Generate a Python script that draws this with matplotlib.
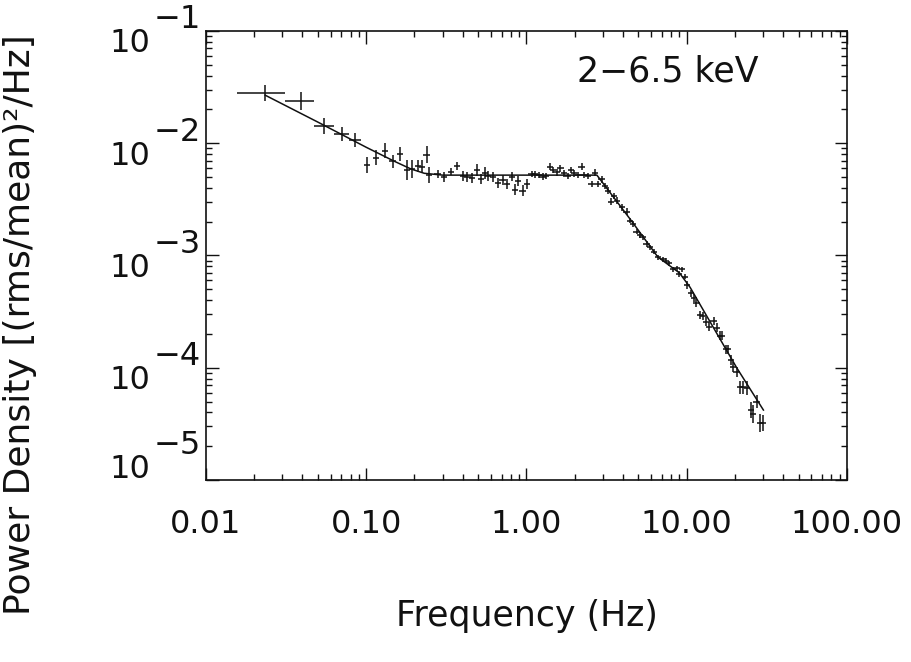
import numpy as np
import matplotlib
matplotlib.use("Agg")
import matplotlib.pyplot as plt
from matplotlib.transforms import offset_copy

# ---- data -----------------------------------------------------------------
FREQ = [0.0234, 0.039, 0.0547, 0.0703, 0.085, 0.1007, 0.115, 0.1315, 0.146, 0.163,
        0.180, 0.194, 0.211, 0.224, 0.238, 0.247,
        0.279, 0.307, 0.337, 0.370, 0.400, 0.428, 0.457, 0.489, 0.520, 0.553,
        0.578, 0.621, 0.667, 0.709, 0.758, 0.809, 0.847, 0.889, 0.946, 1.003,
        1.077, 1.13, 1.20, 1.26, 1.32, 1.40, 1.47, 1.54, 1.63, 1.72,
        1.81, 1.90, 1.99, 2.10, 2.21, 2.30, 2.43, 2.55, 2.67, 2.81,
        2.94, 3.09, 3.24, 3.37, 3.53, 3.69, 3.93, 4.22,
        4.43, 4.64, 4.87, 5.11, 5.31, 5.62, 5.90, 6.25, 6.64, 7.08,
        7.42, 7.78, 8.24, 8.65, 8.99, 9.38, 9.75,
        10.1, 10.6, 11.1, 11.5, 12.1, 12.7, 13.2, 13.8, 14.7, 15.4,
        16.1, 16.7, 17.6, 18.2, 18.9, 19.5,
        20.5, 21.5, 22.5, 23.7, 25.2, 26.0, 27.3, 28.6, 30.1]
POWER = [0.0279, 0.0239, 0.0143, 0.0121, 0.0107, 0.0064, 0.0074, 0.0086, 0.0069, 0.0080,
         0.0058, 0.0059, 0.0063, 0.0062, 0.0079, 0.0052,
         0.0053, 0.0050, 0.0056, 0.0063, 0.0051, 0.0050, 0.0049, 0.0058, 0.0048, 0.0054,
         0.0051, 0.0050, 0.00446, 0.00471, 0.00431, 0.00504, 0.00384, 0.00461, 0.00376, 0.00431,
         0.00532, 0.0053, 0.00521, 0.00504, 0.0051, 0.00618, 0.00578, 0.00551, 0.00598, 0.0054,
         0.0051, 0.00578, 0.0054, 0.00521, 0.00618, 0.00521, 0.0051, 0.00434, 0.00547, 0.00434,
         0.00478, 0.00416, 0.00378, 0.00301, 0.00339, 0.00308, 0.00269, 0.00245,
         0.00204, 0.00191, 0.00163, 0.00152, 0.00145, 0.00127, 0.00118, 0.00108, 0.000964, 0.000925,
         0.000899, 0.000851, 0.000754, 0.000769, 0.000684, 0.000754, 0.000647,
         0.000546, 0.00046, 0.000416, 0.000375, 0.000295, 0.000289, 0.000257, 0.000232, 0.000262, 0.000228,
         0.000192, 0.000192, 0.000146, 0.000146, 0.000117, 0.000102,
         9.2e-5, 6.7e-5, 6.7e-5, 6.6e-5, 4.2e-5, 3.9e-5, 5.0e-5, 3.2e-5, 3.2e-5]
# 1-sigma errors, in dex
YERR_DEX = ([0.07, 0.08, 0.07, 0.065, 0.065, 0.074, 0.067, 0.067, 0.06, 0.062,
             0.089, 0.08, 0.053, 0.06, 0.074, 0.071]
            + [0.036, 0.045, 0.03, 0.036, 0.045, 0.045, 0.045, 0.053, 0.045, 0.053,
               0.045, 0.045, 0.045, 0.045, 0.045, 0.04, 0.049, 0.045, 0.049, 0.045]
            + [0.03] * 28 + [0.024] * 17
            + [0.032, 0.034, 0.034, 0.036, 0.036, 0.036, 0.038, 0.038, 0.038, 0.04,
               0.04, 0.04, 0.04, 0.042, 0.042, 0.042]
            + [0.045, 0.06, 0.06, 0.06, 0.074, 0.08, 0.06, 0.08, 0.07])
# frequency bins of the first (wide) points; later bins are narrow
BIN_LO = [0.0156, 0.0313, 0.0469, 0.0625, 0.078]
BIN_HI = [0.0313, 0.0469, 0.0625, 0.078, 0.093]
XERR_FRAC = 0.045

# fitted model
MODEL_F = [0.0234, 0.05, 0.1, 0.15, 0.19, 0.23, 0.3, 2.75, 4.5, 6.6, 9.0, 10.5, 20.5, 30.1]
MODEL_P = [0.0268, 0.0154, 0.0092, 0.0069, 0.0059, 0.0054, 0.0052, 0.0052, 0.00205,
           0.00097, 0.00070, 0.00052, 0.000100, 4.2e-5]

XTICKS = [0.01, 0.1, 1, 10, 100]
XTICK_LABELS = ["0.01", "0.10", "1.00", "10.00", "100.00"]
YEXP = [-1, -2, -3, -4, -5]

plt.rcParams["font.family"] = ["DejaVu Sans"]
INK = "#111111"

f = np.array(FREQ); p = np.array(POWER); d = np.array(YERR_DEX)
yerr = np.vstack([p - p * 10**(-d), p * 10**d - p])
xerr = np.vstack([f * XERR_FRAC, f * XERR_FRAC])
n = len(BIN_LO)
xerr[0, :n] = f[:n] - np.array(BIN_LO)
xerr[1, :n] = np.array(BIN_HI) - f[:n]

fig = plt.figure(figsize=(9.12, 6.62), dpi=100)
ax = fig.add_axes([0.2259, 0.2749, 0.7028, 0.6783])
ax.set_xscale("log"); ax.set_yscale("log")
ax.set_xlim(0.01, 100); ax.set_ylim(1e-5, 1e-1)

ax.errorbar(f, p, xerr=xerr, yerr=yerr, fmt="none", ecolor=INK, elinewidth=1.1, capsize=0)
ax.plot(MODEL_F, MODEL_P, color=INK, lw=1.1)

for s in ax.spines.values():
    s.set_linewidth(1.2); s.set_color(INK)
ax.tick_params(which="both", direction="in", top=True, right=True, color=INK, width=1.0)
ax.tick_params(which="major", length=9)
ax.tick_params(which="minor", length=4.5)
ax.set_xticks(XTICKS)
ax.set_xticklabels(XTICK_LABELS, fontsize=23, color=INK)
ax.tick_params(axis="x", pad=21)
ax.set_yticks([10.0**k for k in YEXP])
ax.set_yticklabels([])

# y tick labels "10" with full-size superscript exponent
ytr = ax.get_yaxis_transform()
for k in YEXP:
    dy = 24 if k == -5 else 0   # bottom label sits above its tick
    ax.text(-0.087, 10.0**k, "10", ha="right", va="center", fontsize=23, color=INK,
            transform=offset_copy(ytr, fig, y=-13 + dy, units="dots"), clip_on=False)
    ax.text(-0.081, 10.0**k, "\u2212" + str(-k), ha="left", va="center", fontsize=23,
            color=INK, transform=offset_copy(ytr, fig, y=11 + dy, units="dots"), clip_on=False)

ax.set_xlabel("Frequency (Hz)", fontsize=25, color=INK, labelpad=42)
ax.set_ylabel("Power Density [(rms/mean)\u00b2/Hz]", fontsize=26, color=INK)
ax.yaxis.set_label_coords(-0.290, 0.347)
ax.yaxis.label.set_va("center")

ax.text(0.579, 0.909, "2\u22126.5 keV", transform=ax.transAxes, fontsize=25,
        color=INK, ha="left", va="center")

fig.savefig("out.png", dpi=100)
